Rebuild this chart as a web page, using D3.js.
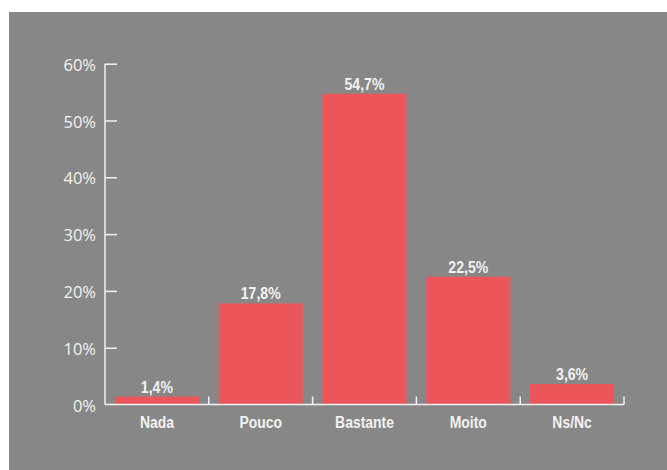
<!DOCTYPE html>
<html><head><meta charset="utf-8">
<script src="https://cdn.jsdelivr.net/npm/d3@7"></script>
<style>
html,body{margin:0;padding:0;background:#fff;}
svg{display:block;}
</style></head>
<body>
<svg id="chart" width="667" height="470"></svg>
<script>
const categories = ["Nada", "Pouco", "Bastante", "Moito", "Ns/Nc"];
const values = [1.4, 17.8, 54.7, 22.5, 3.6];
const valueLabels = ["1,4%", "17,8%", "54,7%", "22,5%", "3,6%"];
const yTicks = [0, 10, 20, 30, 40, 50, 60];

const svg = d3.select("#chart");
svg.append("rect").attr("x", 9).attr("y", 12).attr("width", 658).attr("height", 458).attr("fill", "#878787");

const x0 = 105, x1 = 624, yBase = 404.5, yTop = 63.7;
const x = d3.scaleBand().domain(categories).range([x0, x1]).paddingInner(0.19).paddingOuter(0.095);
const y = d3.scaleLinear().domain([0, 60]).range([yBase, yTop]);
const band = (x1 - x0) / categories.length;

const g = svg.append("g");
const white = "#f2f2f2";
const sans = "'Liberation Sans', Arial, sans-serif";

// bars
g.selectAll("rect.bar").data(values).join("rect")
  .attr("class", "bar")
  .attr("x", (d, i) => x(categories[i]))
  .attr("width", x.bandwidth())
  .attr("y", d => y(d))
  .attr("height", d => yBase - y(d))
  .attr("fill", "#ec565b");

// value labels
g.selectAll("text.val").data(values).join("text")
  .attr("class", "val")
  .attr("transform", (d, i) => `translate(${x(categories[i]) + x.bandwidth() / 2},${y(d) - 4}) scale(0.88,1)`)
  .attr("text-anchor", "middle")
  .attr("fill", white)
  .attr("font-family", sans)
  .attr("font-weight", "bold")
  .attr("font-size", 16)
  .text((d, i) => valueLabels[i]);

// y axis
const yAxis = d3.axisRight(y).tickValues(yTicks).tickSize(12).tickFormat(d => d + "%");
const ya = g.append("g").attr("transform", `translate(${x0},0)`).call(yAxis);
ya.select(".domain").remove();
ya.selectAll(".tick line").attr("stroke", white).attr("stroke-width", 1.5)
  .filter(d => d === 0).remove();
ya.selectAll(".tick text").attr("x", -9).attr("text-anchor", "end")
  .attr("fill", white).attr("font-family", "'Open Sans', sans-serif").attr("font-size", 16.5).attr("dy", "0.4em");
g.append("line").attr("x1", x0).attr("x2", x0).attr("y1", yTop).attr("y2", yBase)
  .attr("stroke", white).attr("stroke-width", 1.5);

// x axis
g.append("line").attr("x1", x0).attr("x2", x1).attr("y1", yBase).attr("y2", yBase)
  .attr("stroke", white).attr("stroke-width", 1.5);
const boundaries = d3.range(1, categories.length + 1).map(i => x0 + i * band);
g.selectAll("line.xt").data(boundaries).join("line")
  .attr("class", "xt")
  .attr("x1", d => d).attr("x2", d => d)
  .attr("y1", yBase).attr("y2", yBase - 8)
  .attr("stroke", white).attr("stroke-width", 1.5);

const xAxis = d3.axisBottom(x).tickSize(0).tickPadding(0);
const xa = g.append("g").attr("transform", `translate(0,${yBase})`).call(xAxis);
xa.select(".domain").remove();
xa.selectAll(".tick text").attr("y", null).attr("dy", 0)
  .attr("transform", "translate(0,23.5) scale(0.82,1)")
  .attr("fill", white).attr("font-family", sans).attr("font-weight", "bold").attr("font-size", 17);
</script>
</body></html>
